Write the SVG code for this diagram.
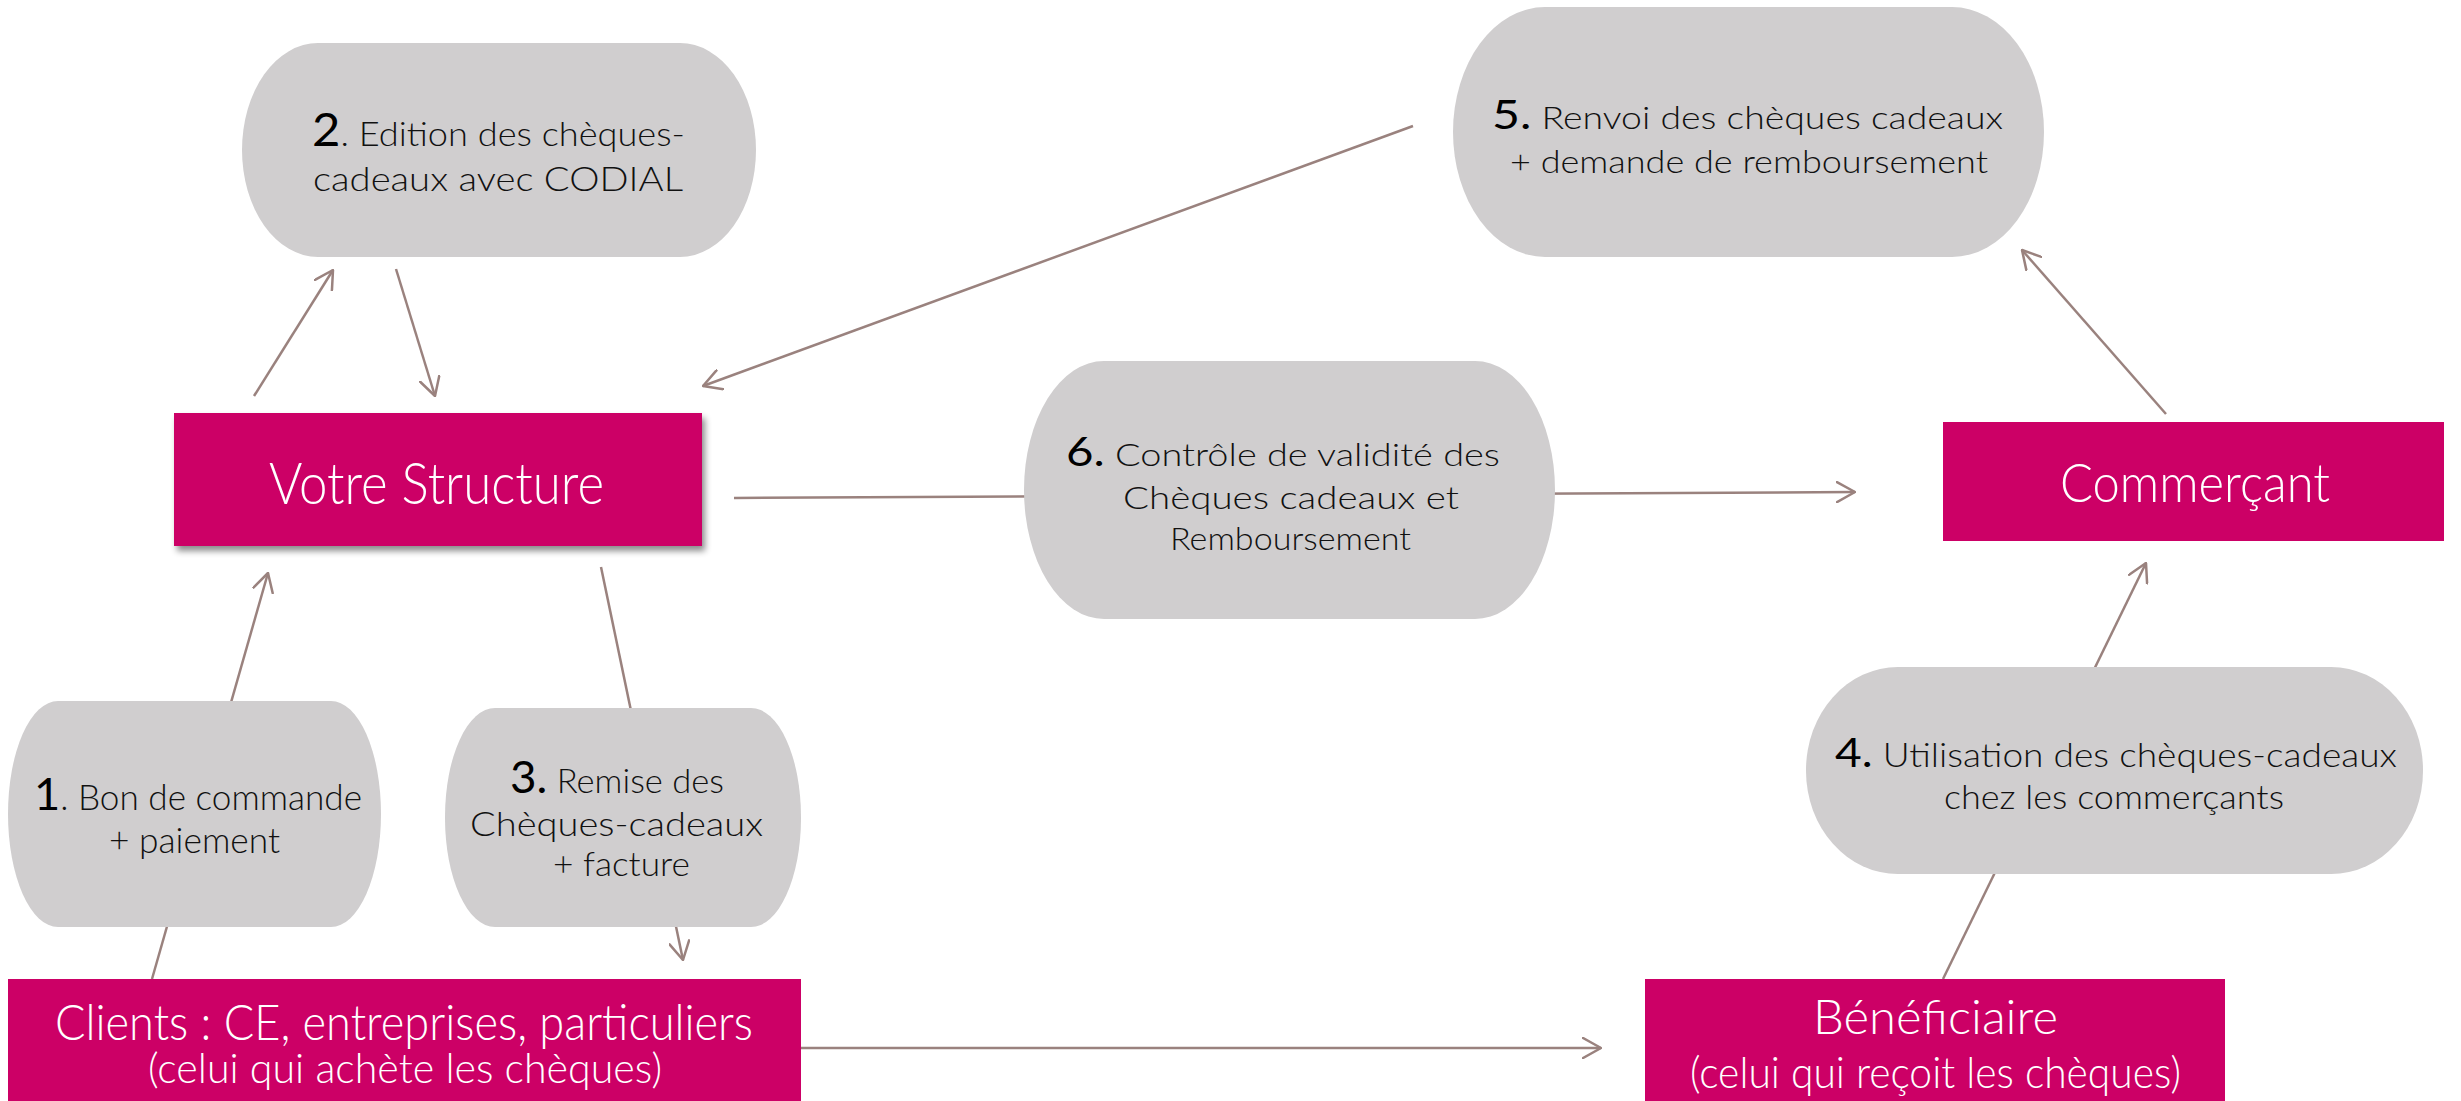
<svg xmlns="http://www.w3.org/2000/svg" width="2461" height="1101" viewBox="0 0 2461 1101">
<style>
.proc{fill:#D0CECF}
.box{fill:#CC0066}
.lbl{font-family:Lato,"Liberation Sans",sans-serif;font-weight:300;fill:#111}
.num{font-weight:400;fill:#000}
.wt{font-family:Lato,"Liberation Sans",sans-serif;font-weight:300;fill:#fff}
.conn line{stroke:#9A827E;stroke-width:2.5;fill:none}
</style>
<defs>
<marker id="arr" viewBox="0 0 20 22" refX="19" refY="11" markerWidth="20" markerHeight="22" markerUnits="userSpaceOnUse" orient="auto">
<path d="M1,1 L19,11 L1,21" fill="none" stroke="#9A827E" stroke-width="2.5" stroke-linecap="round" stroke-linejoin="round"/>
</marker>
<filter id="sh" x="-5%" y="-10%" width="115%" height="130%">
<feDropShadow dx="3" dy="5" stdDeviation="3" flood-color="#000" flood-opacity="0.45"/>
</filter>
</defs>
<rect width="2461" height="1101" fill="#fff"/>
<g id="connectors" class="conn">
<line x1="254" y1="396" x2="333" y2="270" marker-end="url(#arr)"/>
<line x1="396" y1="269" x2="435" y2="396" marker-end="url(#arr)"/>
<line x1="1413" y1="126" x2="703" y2="386" marker-end="url(#arr)"/>
<line x1="734" y1="498" x2="1855" y2="492" marker-end="url(#arr)"/>
<line x1="2166" y1="414" x2="2022" y2="250" marker-end="url(#arr)"/>
<line x1="152" y1="979" x2="268" y2="573" marker-end="url(#arr)"/>
<line x1="601" y1="567" x2="683" y2="960" marker-end="url(#arr)"/>
<line x1="801" y1="1048" x2="1601" y2="1048" marker-end="url(#arr)"/>
<line x1="1943" y1="979" x2="2146" y2="563" marker-end="url(#arr)"/>
</g>
<g id="n2">
<rect class="proc" x="242" y="43" width="514" height="214" rx="76" ry="107"/>
<text class="lbl" x="312" y="146" font-size="34" textLength="373" lengthAdjust="spacingAndGlyphs"><tspan class="num" font-size="46">2</tspan>. Edition des chèques-</text>
<text class="lbl" x="313" y="191" font-size="34" textLength="370" lengthAdjust="spacingAndGlyphs">cadeaux avec CODIAL</text>
</g>
<g id="n5">
<rect class="proc" x="1453" y="7" width="591" height="250" rx="92" ry="125"/>
<text class="lbl" x="1492" y="129" font-size="31" textLength="511" lengthAdjust="spacingAndGlyphs"><tspan class="num" font-size="40">5.</tspan> Renvoi des chèques cadeaux</text>
<text class="lbl" x="1510" y="173" font-size="31" textLength="478" lengthAdjust="spacingAndGlyphs">+ demande de remboursement</text>
</g>
<g id="n6">
<rect class="proc" x="1024" y="361" width="531" height="258" rx="80" ry="129"/>
<text class="lbl" x="1066" y="466" font-size="32" textLength="434" lengthAdjust="spacingAndGlyphs"><tspan class="num" font-size="40">6.</tspan> Contrôle de validité des</text>
<text class="lbl" x="1123" y="509" font-size="32" textLength="336" lengthAdjust="spacingAndGlyphs">Chèques cadeaux et</text>
<text class="lbl" x="1170" y="550" font-size="32" textLength="241" lengthAdjust="spacingAndGlyphs">Remboursement</text>
</g>
<g id="n1">
<rect class="proc" x="8" y="701" width="373" height="226" rx="50" ry="113"/>
<text class="lbl" x="34" y="810" font-size="35" textLength="328" lengthAdjust="spacingAndGlyphs"><tspan class="num" font-size="45">1</tspan>. Bon de commande</text>
<text class="lbl" x="109" y="853" font-size="35" textLength="171" lengthAdjust="spacingAndGlyphs">+ paiement</text>
</g>
<g id="n3">
<rect class="proc" x="445" y="708" width="356" height="219" rx="50" ry="109"/>
<text class="lbl" x="510" y="793" font-size="34" textLength="214" lengthAdjust="spacingAndGlyphs"><tspan class="num" font-size="45">3.</tspan> Remise des</text>
<text class="lbl" x="470" y="836" font-size="34" textLength="293" lengthAdjust="spacingAndGlyphs">Chèques-cadeaux</text>
<text class="lbl" x="553" y="876" font-size="34" textLength="137" lengthAdjust="spacingAndGlyphs">+ facture</text>
</g>
<g id="n4">
<rect class="proc" x="1806" y="667" width="617" height="207" rx="92" ry="103"/>
<text class="lbl" x="1835" y="767" font-size="33" textLength="562" lengthAdjust="spacingAndGlyphs"><tspan class="num" font-size="41">4.</tspan> Utilisation des chèques-cadeaux</text>
<text class="lbl" x="1944" y="809" font-size="33" textLength="340" lengthAdjust="spacingAndGlyphs">chez les commerçants</text>
</g>
<g id="votre-structure">
<rect class="box" x="174" y="413" width="528" height="133" filter="url(#sh)"/>
<text class="wt" x="269" y="504" font-size="58" textLength="335" lengthAdjust="spacingAndGlyphs">Votre Structure</text>
</g>
<g id="commercant">
<rect class="box" x="1943" y="422" width="501" height="119"/>
<text class="wt" x="2060" y="502" font-size="54" textLength="270" lengthAdjust="spacingAndGlyphs">Commerçant</text>
</g>
<g id="clients">
<rect class="box" x="8" y="979" width="793" height="122"/>
<text class="wt" x="55" y="1040" font-size="50" textLength="698" lengthAdjust="spacingAndGlyphs">Clients : CE, entreprises, particuliers</text>
<text class="wt" x="148" y="1083" font-size="42" textLength="514" lengthAdjust="spacingAndGlyphs">(celui qui achète les chèques)</text>
</g>
<g id="beneficiaire">
<rect class="box" x="1645" y="979" width="580" height="122"/>
<text class="wt" x="1813" y="1034" font-size="47" textLength="245" lengthAdjust="spacingAndGlyphs">Bénéficiaire</text>
<text class="wt" x="1690" y="1088" font-size="44" textLength="491" lengthAdjust="spacingAndGlyphs">(celui qui reçoit les chèques)</text>
</g>
</svg>
